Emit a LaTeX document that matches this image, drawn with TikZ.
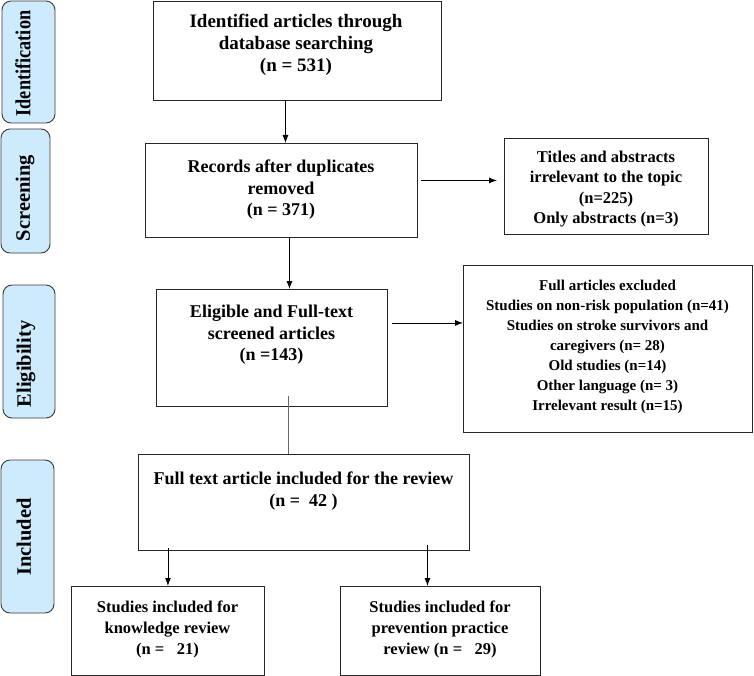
\documentclass[tikz,border=0pt]{standalone}
\usepackage{fontspec}
\setmainfont{Liberation Serif}
\usetikzlibrary{arrows.meta}
\definecolor{phase}{HTML}{CDEBFD}
\definecolor{phaseedge}{HTML}{3A3A3A}
\tikzset{
  box/.style={draw=black!85, line width=0.9pt, inner sep=0pt},
  txt/.style={align=center, inner sep=0pt, font=\fontsize{18}{21.5}\selectfont\bfseries},
  phasebox/.style={draw=phaseedge, fill=phase, line width=0.9pt, rounded corners=9pt},
  phasetxt/.style={rotate=90, inner sep=0pt, font=\fontsize{20.5}{22}\selectfont\bfseries},
  arr/.style={-{Latex[length=8pt,width=6pt]}, line width=0.8pt},
  plain/.style={line width=0.6pt, draw=black!60}
}
\begin{document}
\begin{tikzpicture}[x=1pt,y=-1pt]
\useasboundingbox (0,0) rectangle (754,676);
% phase labels
\node[phasebox, minimum width=53, minimum height=122] (pid) at (28.5,62) {};
\node[phasetxt, xscale=0.85, font=\fontsize{21.5}{22}\selectfont\bfseries] (tid) at (23,63.5) {Identification};
\node[phasebox, minimum width=49, minimum height=124] (psc) at (25.5,191) {};
\node[phasetxt] (tsc) at (25,198) {Screening};
\node[phasebox, minimum width=52, minimum height=133] (pel) at (29,351.5) {};
\node[phasetxt] (tel) at (26,364) {Eligibility};
\node[phasebox, minimum width=53, minimum height=153] (pin) at (27.5,536.5) {};
\node[phasetxt] (tin) at (24,537) {Included};
% main boxes
\node[box, minimum width=288, minimum height=99, anchor=north west] (b1) at (153,1) {};
\node[txt, font=\fontsize{19}{22}\selectfont\bfseries] (t1) at (296,45) {Identified articles through\\database searching\\(n = 531)};
\node[box, minimum width=272, minimum height=94, anchor=north west] (b2) at (145,143) {};
\node[txt] (t2) at (281,190) {Records after duplicates\\removed\\(n = 371)};
\node[box, minimum width=204, minimum height=96, anchor=north west] (b3) at (504,138) {};
\node[txt, font=\fontsize{16.5}{20.5}\selectfont\bfseries] (t3) at (606,189) {Titles and abstracts\\irrelevant to the topic\\(n=225)\\Only abstracts (n=3)};
\node[box, minimum width=231, minimum height=117, anchor=north west] (b4) at (156,289) {};
\node[txt] (t4) at (271.5,335) {Eligible and Full-text\\screened articles\\(n =143)};
\node[box, minimum width=289, minimum height=167, anchor=north west] (b5) at (463,265) {};
\node[txt, font=\fontsize{15}{20}\selectfont\bfseries] (t5) at (607.5,347) {Full articles excluded\\Studies on non-risk population (n=41)\\Studies on stroke survivors and\\caregivers (n= 28)\\Old studies (n=14)\\Other language (n= 3)\\Irrelevant result (n=15)};
\node[box, minimum width=331, minimum height=96, anchor=north west] (b6) at (138,454) {};
\node[txt] (t6) at (303.5,491) {Full text article included for the review\\(n =~~42 )};
\node[box, minimum width=193, minimum height=89, anchor=north west] (b7) at (71,586) {};
\node[txt, font=\fontsize{16.5}{21}\selectfont\bfseries] (t7) at (167.5,629) {Studies included for\\knowledge review\\(n =~~~21)};
\node[box, minimum width=200, minimum height=89, anchor=north west] (b8) at (340,586) {};
\node[txt, font=\fontsize{16.5}{21}\selectfont\bfseries] (t8) at (440,629) {Studies included for\\prevention practice\\review (n =~~~29)};
% connectors
\draw[arr] ([xshift=4pt]b2.north |- b1.south) -- ([xshift=4pt]b2.north);
\draw[arr, shorten <=3pt, shorten >=7pt] ([yshift=10pt]b2.east) -- ([yshift=10pt]b2.east -| b3.west);
\draw[arr] ([xshift=8pt]b2.south) -- ([xshift=8pt]b2.south |- b4.north);
\draw[arr, shorten <=4pt] ([yshift=25pt]b4.east) -- ([yshift=25pt]b4.east -| b5.west);
\draw[plain] ([xshift=16.5pt,yshift=11pt]b4.south) -- ([xshift=16.5pt]b4.south |- b6.north);
\draw[arr] ([yshift=3pt]b7.north |- b6.south) -- (b7.north);
\draw[arr] ([xshift=-13pt,yshift=6pt]b8.north |- b6.south) -- ([xshift=-13pt]b8.north);
\end{tikzpicture}
\end{document}
